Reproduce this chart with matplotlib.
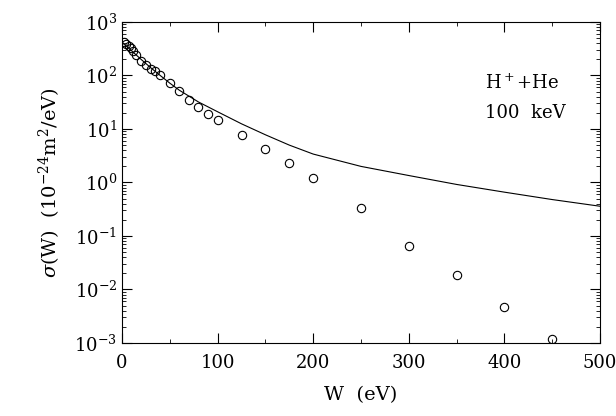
import matplotlib
matplotlib.use("Agg")
import matplotlib.pyplot as plt
from matplotlib.ticker import LogLocator, MultipleLocator

plt.rcParams['font.family'] = ['DejaVu Serif']
plt.rcParams['mathtext.fontset'] = 'dejavuserif'

# measured points
w_data = [1.7, 4.5, 7, 9, 12, 15, 20, 25, 30, 35, 40, 50, 60, 70, 80, 90, 100,
          125, 150, 175, 200, 250, 300, 350, 400, 450]
sig_data = [415, 390, 360, 330, 290, 240, 190, 160, 130, 120, 100, 72, 51, 35, 26,
            19, 15, 7.8, 4.2, 2.3, 1.2, 0.33, 0.065, 0.019, 0.0048, 0.0012]

# theory curve
w_curve = [0, 5, 10, 20, 30, 40, 50, 60, 80, 100, 125, 150, 175, 200, 250, 300,
           350, 400, 450, 500]
sig_curve = [410, 350, 290, 200, 140, 100, 72, 53, 32, 21, 12.5, 7.8, 5.0, 3.4, 2.0,
             1.35, 0.92, 0.66, 0.48, 0.36]

fig = plt.figure(figsize=(6.16, 4.16), dpi=100)
ax = fig.add_axes([122/616, 1 - 343/416, 478/616, 321/416])

ax.plot(w_curve, sig_curve, color='black', lw=0.8)
ax.plot(w_data, sig_data, 'o', mfc='none', mec='black', ms=6, mew=0.8)

ax.set_yscale('log')
ax.set_xlim(0, 500)
ax.set_ylim(1e-3, 1e3)
ax.xaxis.set_major_locator(MultipleLocator(100))
ax.xaxis.set_minor_locator(MultipleLocator(50))
ax.yaxis.set_major_locator(LogLocator(base=10, numticks=10))
ax.yaxis.set_minor_locator(LogLocator(base=10, subs=range(2, 10), numticks=100))
ax.tick_params(which='both', direction='in', top=True, right=True, labelsize=13)
ax.tick_params(which='major', length=7)
ax.tick_params(which='minor', length=3)
ax.tick_params(axis='x', pad=8)

ax.set_xlabel('W  (eV)', fontsize=14, labelpad=10)
ax.set_ylabel(r'$\sigma$(W)  (10$^{-24}$m$^2$/eV)', fontsize=14, labelpad=8)

ax.text(380, 70, r'H$^+$+He', fontsize=13, va='center')
ax.text(380, 20, '100  keV', fontsize=13, va='center')

fig.savefig('out.png', dpi=100)
